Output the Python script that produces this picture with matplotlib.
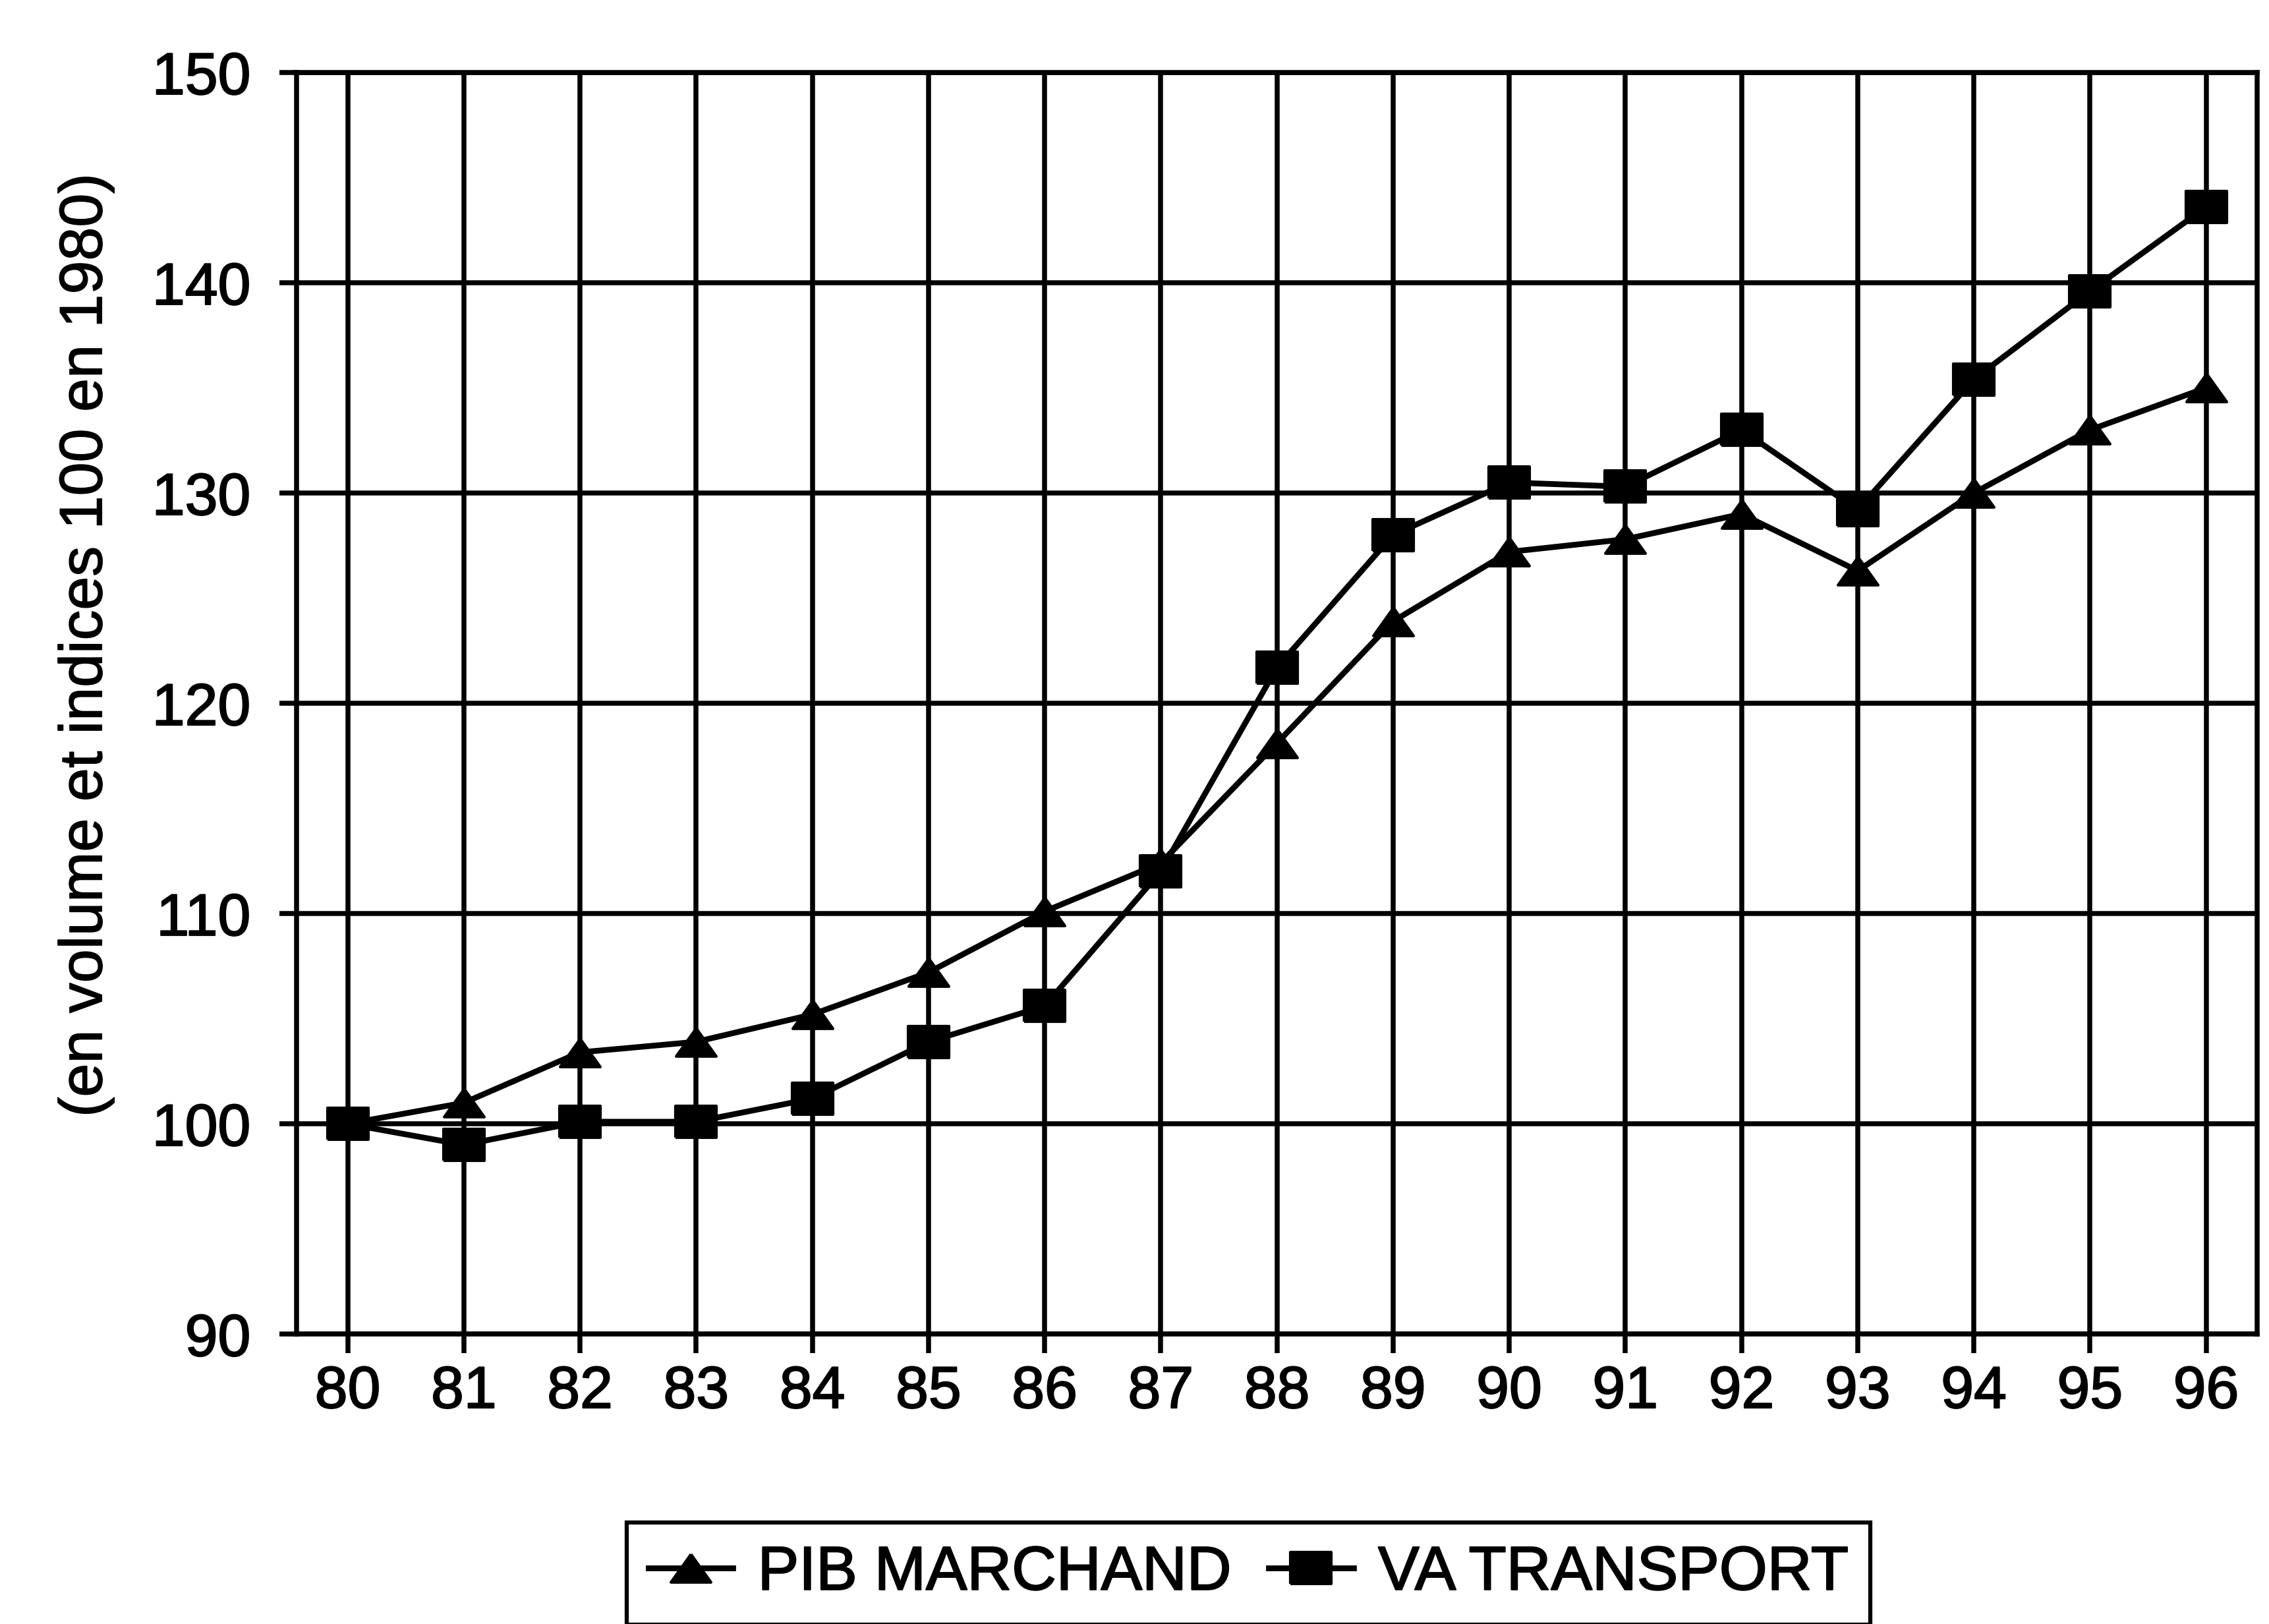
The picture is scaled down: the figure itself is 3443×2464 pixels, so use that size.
import matplotlib
matplotlib.use('Agg')
from matplotlib import pyplot as plt
from matplotlib import patheffects

plt.rcParams['font.family'] = ['Liberation Sans', 'DejaVu Sans']

# donnees (indices 100 en 1980)
annees = ['80', '81', '82', '83', '84', '85', '86', '87', '88',
          '89', '90', '91', '92', '93', '94', '95', '96']
pib_marchand = [100, 101.0, 103.4, 103.9, 105.2, 107.2, 110.1, 112.4, 118.1,
                123.9, 127.2, 127.8, 129.0, 126.3, 130.0, 133.0, 135.0]
va_transport = [100, 99.0, 100.1, 100.1, 101.2, 103.9, 105.6, 112.0, 121.7,
                128.0, 130.5, 130.3, 133.0, 129.2, 135.4, 139.6, 143.6]
yticks = [90, 100, 110, 120, 130, 140, 150]

# marqueurs un peu aplatis comme sur le scan
triangle = [(0, 0.7), (-1, -0.7), (1, -0.7), (0, 0.7)]
carre = [(-1, -0.76), (1, -0.76), (1, 0.76), (-1, 0.76), (-1, -0.76)]

# texte un peu plus epais (aspect photocopie)
epais = [patheffects.withStroke(linewidth=0.5, foreground='black')]

fig = plt.figure(figsize=(3443 / 300, 2464 / 300), dpi=300)
ax = fig.add_axes([0.1307, 0.1785, 0.8641, 0.7769])

x = list(range(len(annees)))
ax.plot(x, pib_marchand, color='black', lw=2.1, marker=triangle, ms=14.6,
        mec='black', mfc='black', label='PIB MARCHAND', zorder=3)
ax.plot(x, va_transport, color='black', lw=2.1, marker=carre, ms=14.9,
        mec='black', mfc='black', label='VA TRANSPORT', zorder=3)

ax.set_xlim(-0.44, len(annees) - 1 + 0.44)
ax.set_ylim(90, 150)
ax.set_xticks(x)
ax.set_xticklabels(annees)
ax.set_yticks(yticks)

ax.grid(True, color='black', lw=1.8)
ax.set_axisbelow(True)
for s in ax.spines.values():
    s.set_linewidth(1.8)
    s.set_color('black')

ax.tick_params(axis='y', direction='out', length=6.2, width=1.8, pad=10.5,
               labelsize=21.5)
ax.tick_params(axis='x', direction='out', length=7, width=1.8, pad=4,
               labelsize=21.5)
for t in ax.get_xticklabels() + ax.get_yticklabels():
    t.set_path_effects(epais)

ax.set_ylabel('(en volume et indices 100 en 1980)', fontsize=22,
              path_effects=[patheffects.withStroke(linewidth=0.35, foreground='black')])
ax.yaxis.set_label_coords(-0.093, 0.546)

leg = fig.legend(loc='upper left', bbox_to_anchor=(0.2762, 0.0625), ncol=2,
                 fontsize=22.5, handlelength=1.37, handletextpad=0.4,
                 columnspacing=0.6, borderpad=0.35, borderaxespad=0,
                 fancybox=False, framealpha=1, edgecolor='black')
leg.get_frame().set_linewidth(1.5)
for t in leg.get_texts():
    t.set_path_effects(epais)

fig.savefig('out.png', dpi=300)
